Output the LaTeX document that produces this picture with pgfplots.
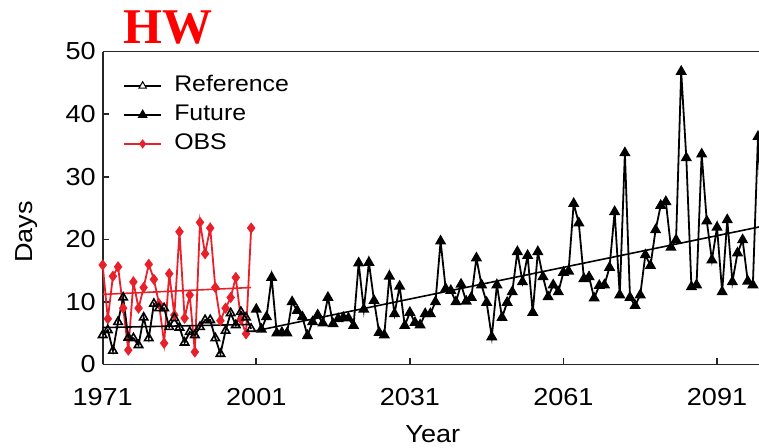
\documentclass[border=0pt]{standalone}
\usepackage{fontspec}
\setmainfont{Liberation Sans}[FakeStretch=1.1]
\newfontfamily\titlefont{Liberation Serif}
\usepackage{pgfplots}
\usepackage{pgfplotstable}
\pgfplotsset{compat=1.18}

\definecolor{obsred}{RGB}{232,32,42}

% Heat-wave days, reference simulation 1971-2000
\pgfplotstableread{
year days
1971 4.7
1972 5.5
1973 2.2
1974 6.8
1975 10.7
1976 4.3
1977 4.2
1978 3.1
1979 7.5
1980 4.2
1981 9.7
1982 9.0
1983 9.0
1984 6.0
1985 7.4
1986 5.9
1987 3.5
1988 5.2
1989 4.7
1990 6.0
1991 7.1
1992 7.1
1993 4.2
1994 1.7
1995 5.4
1996 8.2
1997 6.3
1998 8.4
1999 7.5
2000 5.7
}\refdata

% Observed heat-wave days 1971-2000
\pgfplotstableread{
year days
1971 15.9
1972 7.3
1973 14.1
1974 15.6
1975 9.0
1976 2.3
1977 13.2
1978 9.0
1979 12.3
1980 16.0
1981 13.6
1982 9.7
1983 3.4
1984 14.5
1985 7.9
1986 21.2
1987 7.4
1988 11.1
1989 2.0
1990 22.7
1991 17.7
1992 21.8
1993 12.3
1994 7.0
1995 9.0
1996 10.7
1997 13.9
1998 7.2
1999 4.9
2000 21.8
}\obsdata

% Projected heat-wave days 2001-2100
\pgfplotstableread{
year days
2001 8.8
2002 5.6
2003 7.6
2004 13.9
2005 5.0
2006 5.1
2007 5.0
2008 10.0
2009 8.6
2010 7.6
2011 4.6
2012 6.8
2013 7.9
2014 6.6
2015 10.7
2016 6.5
2017 7.3
2018 7.5
2019 7.4
2020 6.2
2021 16.2
2022 8.8
2023 16.3
2024 10.2
2025 5.1
2026 4.7
2027 14.1
2028 8.1
2029 12.5
2030 6.2
2031 8.3
2032 6.7
2033 6.3
2034 8.1
2035 8.1
2036 10.0
2037 19.7
2038 12.1
2039 11.8
2040 10.0
2041 12.8
2042 10.1
2043 10.7
2044 17.0
2045 12.7
2046 9.9
2047 4.4
2048 12.7
2049 7.5
2050 9.9
2051 11.6
2052 18.0
2053 13.2
2054 17.4
2055 8.3
2056 18.0
2057 14.0
2058 10.8
2059 12.7
2060 11.6
2061 14.7
2062 14.9
2063 25.7
2064 22.6
2065 13.7
2066 14.0
2067 10.6
2068 12.6
2069 12.7
2070 15.5
2071 24.4
2072 11.1
2073 33.8
2074 10.7
2075 9.4
2076 11.1
2077 17.5
2078 15.8
2079 21.5
2080 25.4
2081 26.0
2082 18.7
2083 19.9
2084 46.8
2085 33.0
2086 12.4
2087 12.7
2088 33.6
2089 22.9
2090 16.7
2091 21.9
2092 11.6
2093 23.1
2094 13.2
2095 17.8
2096 19.9
2097 13.3
2098 12.7
2099 36.4
2100 20.0
}\futdata

\begin{document}
\begin{tikzpicture}
\begin{axis}[
  name=ax,
  scale only axis,
  width=328.15pt, height=156.5pt,
  xmin=1971, xmax=2099.2,
  ymin=0, ymax=50,
  axis x line*=box, axis y line*=left,
  xtick pos=bottom, ytick pos=left,
  tick align=inside,
  major tick length=3pt,
  xtick={1971,2001,2031,2061,2091},
  ytick={0,10,...,50},
  axis line style={line width=0.9pt, black!85},
  every tick/.style={line width=0.8pt, black!85},
  /pgf/number format/assume math mode=true,
  /pgf/number format/1000 sep={},
  ticklabel style={font=\fontsize{12.3}{14}\selectfont},
  xticklabel style={yshift=-8.5pt},
  xlabel={Year},
  ylabel={Days},
  label style={font=\fontsize{12.3}{14}\selectfont},
  xlabel style={at={(rel axis cs:0.503,-0.222)}, anchor=center},
  ylabel style={at={(rel axis cs:-0.1153,0.423)}, anchor=center, rotate=0},
  legend style={at={(0,1)}, anchor=north west, xshift=7pt, yshift=-8.5pt,
    draw=none, fill=none, font=\fontsize{11.3}{13}\selectfont,
    nodes={inner sep=1.5pt, text height=8pt, text depth=2pt},
    row sep=1.5pt,
    /tikz/every odd column/.append style={column sep=4.5pt}},
  legend cell align=left,
  legend image code/.code={
    \draw[mark repeat=2, mark phase=2, #1]
      plot coordinates {(0cm,0cm) (0.33cm,0cm) (0.66cm,0cm)};},
]
% observations and their trend
\addplot[obsred, line width=0.9pt, mark=diamond*, mark size=2.1pt,
  mark options={solid, fill=obsred}, forget plot] table {\obsdata};
\addplot[obsred, line width=0.8pt, forget plot]
  coordinates {(1971,11.2) (2000,12.3)};
% reference simulation and its trend
\addplot[black, line width=0.9pt, mark=triangle, mark size=2.4pt,
  mark options={solid, line width=0.8pt, fill=white}, forget plot] table {\refdata};
\addplot[black, line width=0.8pt, forget plot]
  coordinates {(1971,5.9) (2000,6.4)};
% future projection and its trend
\addplot[black, line width=0.9pt, mark=triangle*, mark size=2.4pt,
  mark options={solid, fill=black}, forget plot] table {\futdata};
\addplot[black, line width=0.8pt, forget plot]
  coordinates {(2001,5.4) (2100,22.1)};
% legend
\addlegendimage{black, line width=0.8pt, mark=triangle*, mark size=2.1pt,
  mark options={line width=0.5pt, fill=white}}
\addlegendentry{Reference}
\addlegendimage{black, line width=0.8pt, mark=triangle*, mark size=2.1pt}
\addlegendentry{Future}
\addlegendimage{obsred, line width=0.8pt, mark=diamond*, mark size=1.7pt}
\addlegendentry{OBS}
\end{axis}
\node[anchor=base, text=red, font=\titlefont\bfseries\fontsize{25}{25}\selectfont]
  at ([xshift=32.8pt, yshift=4.1pt]ax.north west) {HW};
\pgfresetboundingbox
\path[use as bounding box] ([xshift=-51.35pt, yshift=-41.75pt]ax.south west)
  rectangle ([yshift=25.75pt]ax.north east);
\end{tikzpicture}
\end{document}
